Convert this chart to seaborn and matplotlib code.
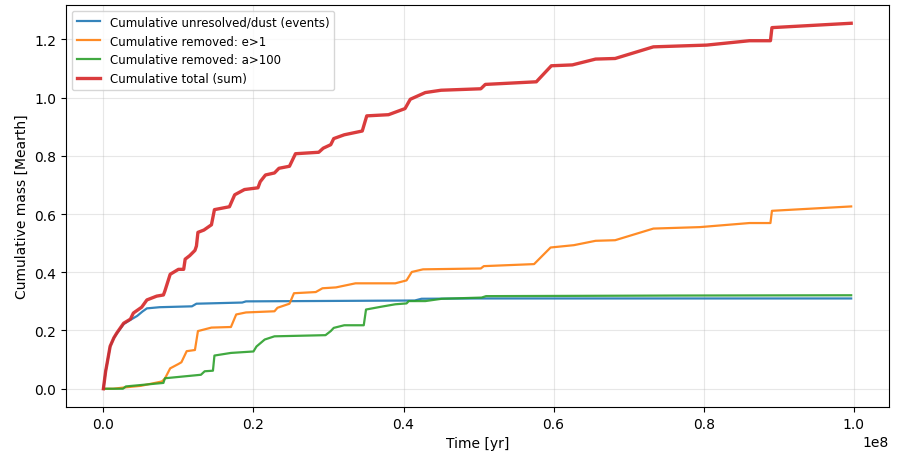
import numpy as np
import pandas as pd
import matplotlib
matplotlib.use("Agg")
import matplotlib.pyplot as plt
import seaborn as sns

# times are read in units of 1e8 yr, masses in Mearth
t_dust = [0, 0.003, 0.005, 0.009, 0.014, 0.018, 0.027, 0.035, 0.045, 0.052, 0.058,
          0.075, 0.118, 0.124, 0.185, 0.19, 0.415, 0.424, 0.5, 0.9966]
m_dust = [0, 0.06, 0.088, 0.145, 0.175, 0.19, 0.222, 0.235, 0.25, 0.265, 0.276,
          0.28, 0.283, 0.292, 0.296, 0.3, 0.303, 0.309, 0.31, 0.31]

t_ecc = [0, 0.013, 0.03, 0.05, 0.078, 0.082, 0.089, 0.1, 0.104, 0.111, 0.122, 0.126,
         0.144, 0.17, 0.177, 0.19, 0.228, 0.232, 0.248, 0.254, 0.283, 0.292, 0.31,
         0.336, 0.389, 0.404, 0.411, 0.426, 0.503, 0.507, 0.574, 0.596, 0.627, 0.656,
         0.682, 0.733, 0.795, 0.861, 0.889, 0.891, 0.9966]
m_ecc = [0, 0, 0.005, 0.01, 0.025, 0.035, 0.07, 0.085, 0.091, 0.129, 0.133, 0.198,
         0.21, 0.212, 0.255, 0.262, 0.266, 0.278, 0.292, 0.328, 0.332, 0.345, 0.348,
         0.362, 0.362, 0.372, 0.401, 0.41, 0.413, 0.421, 0.428, 0.485, 0.493, 0.508,
         0.51, 0.55, 0.555, 0.569, 0.569, 0.611, 0.626]

t_far = [0, 0.026, 0.03, 0.08, 0.082, 0.13, 0.135, 0.146, 0.148, 0.17, 0.2, 0.204,
         0.215, 0.228, 0.296, 0.303, 0.307, 0.321, 0.347, 0.35, 0.371, 0.389, 0.404,
         0.407, 0.429, 0.451, 0.504, 0.51, 0.76, 0.9966]
m_far = [0, 0, 0.008, 0.02, 0.036, 0.048, 0.06, 0.062, 0.114, 0.123, 0.128, 0.145,
         0.169, 0.18, 0.184, 0.198, 0.209, 0.218, 0.218, 0.272, 0.282, 0.29, 0.293,
         0.301, 0.301, 0.309, 0.313, 0.318, 0.32, 0.321]

t_tot = [0, 0.003, 0.005, 0.009, 0.014, 0.018, 0.027, 0.036, 0.04, 0.051, 0.058, 0.071,
         0.08, 0.082, 0.089, 0.1, 0.107, 0.109, 0.115, 0.122, 0.124, 0.126, 0.134,
         0.144, 0.148, 0.168, 0.175, 0.188, 0.206, 0.209, 0.216, 0.228, 0.234, 0.248,
         0.256, 0.287, 0.293, 0.303, 0.307, 0.321, 0.345, 0.351, 0.38, 0.402, 0.409,
         0.429, 0.45, 0.503, 0.509, 0.577, 0.597, 0.625, 0.656, 0.682, 0.733, 0.804,
         0.861, 0.889, 0.891, 0.9966]
m_tot = [0, 0.06, 0.088, 0.146, 0.175, 0.192, 0.225, 0.239, 0.26, 0.28, 0.305, 0.318,
         0.322, 0.336, 0.393, 0.41, 0.41, 0.445, 0.457, 0.475, 0.49, 0.537, 0.545,
         0.563, 0.615, 0.625, 0.666, 0.684, 0.69, 0.711, 0.734, 0.741, 0.757, 0.764,
         0.807, 0.812, 0.826, 0.838, 0.859, 0.872, 0.885, 0.937, 0.941, 0.962, 0.994,
         1.017, 1.025, 1.03, 1.045, 1.054, 1.109, 1.112, 1.132, 1.134, 1.174, 1.18,
         1.195, 1.195, 1.24, 1.255]

labels = ["Cumulative unresolved/dust (events)",
          "Cumulative removed: e>1",
          "Cumulative removed: a>100",
          "Cumulative total (sum)"]

fig = plt.figure(figsize=(8.98, 4.6), dpi=100)
ax = fig.add_axes([0.0735, 0.113, 0.916, 0.874])

series = [(t_dust, m_dust, "C0", 1.6),
          (t_ecc, m_ecc, "C1", 1.6),
          (t_far, m_far, "C2", 1.6),
          (t_tot, m_tot, "C3", 2.4)]
for (t, m, c, lw), lab in zip(series, labels):
    df = pd.DataFrame({"t": np.array(t) * 1e8, "m": m})
    sns.lineplot(data=df, x="t", y="m", ax=ax, color=c, lw=lw, label=lab,
                 sort=False, estimator=None, alpha=0.9)

ax.set_xlabel("Time [yr]")
ax.set_ylabel("Cumulative mass [Mearth]")
ax.grid(True, alpha=0.3)
ax.legend(loc="upper left", fontsize=8.5)
fig.savefig("out.png", dpi=100)
